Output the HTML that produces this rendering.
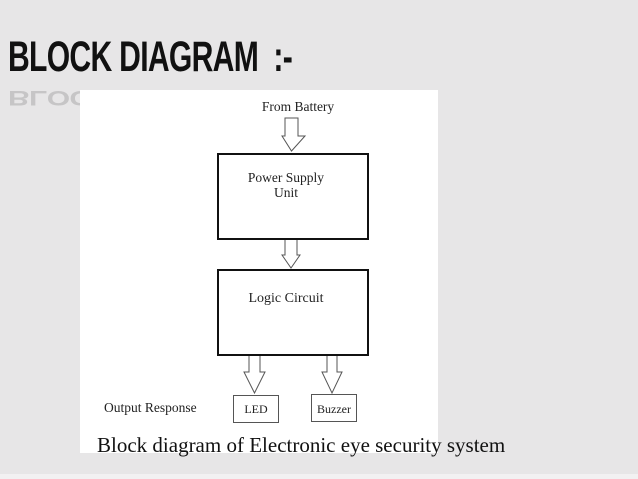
<!DOCTYPE html>
<html><head><style>
body{margin:0;width:638px;height:479px;background:#e7e6e7;position:relative;overflow:hidden;font-family:"Liberation Serif",serif}
.t{position:absolute;left:8px;top:33px;font:bold 43px "Liberation Sans",sans-serif;color:#111;white-space:nowrap;transform-origin:0 0;transform:scaleX(0.70);letter-spacing:-1px}
.r{position:absolute;left:8px;top:110px;font:bold 43px "Liberation Sans",sans-serif;color:#111;white-space:nowrap;transform-origin:0 0;transform:scaleX(0.70) scaleY(-0.5);opacity:.15;letter-spacing:-1px}
.panel{position:absolute;left:80px;top:90px;width:358px;height:363px;background:#fff}
.strip{position:absolute;left:0;top:474px;width:638px;height:5px;background:#f2f1f2}
</style></head><body>
<div class="t">BLOCK DIAGRAM&nbsp; :-</div>
<div class="r">BLOCK DIAGRAM&nbsp; :-</div>
<div class="panel"></div>
<div class="strip"></div>
<svg width="638" height="479" style="position:absolute;left:0;top:0" font-family="Liberation Serif, serif" fill="#222">
<text x="298" y="111" font-size="13.5" text-anchor="middle">From Battery</text>
<g fill="#fff" stroke="#555" stroke-width="1">
<polygon points="285,118 298,118 298,136 305,136 291.5,151 282,136 285,136"/>
<polygon points="285,239 297,239 297,255 300,255 291,268 282,255 285,255"/>
<polygon points="249,355 260,355 260,372 265,372 254.5,393 244,372 249,372"/>
<polygon points="327,355 337,355 337,372 342,372 332,393 322,372 327,372"/>
<rect x="233.5" y="395.5" width="45" height="27"/>
<rect x="311.5" y="394.5" width="45" height="27"/>
</g>
<rect x="218" y="154" width="150" height="85" fill="none" stroke="#111" stroke-width="2"/>
<rect x="218" y="270" width="150" height="85" fill="none" stroke="#111" stroke-width="2"/>
<text x="286" y="182" font-size="13.5" text-anchor="middle">Power Supply</text>
<text x="286" y="197" font-size="13.5" text-anchor="middle">Unit</text>
<text x="286" y="302" font-size="14" text-anchor="middle">Logic Circuit</text>
<text x="104" y="412" font-size="13.5">Output Response</text>
<text x="256" y="413" font-size="12" text-anchor="middle">LED</text>
<text x="334" y="413" font-size="12" text-anchor="middle">Buzzer</text>
<text x="97" y="452" font-size="21" fill="#111">Block diagram of Electronic eye security system</text>
</svg>
</body></html>
